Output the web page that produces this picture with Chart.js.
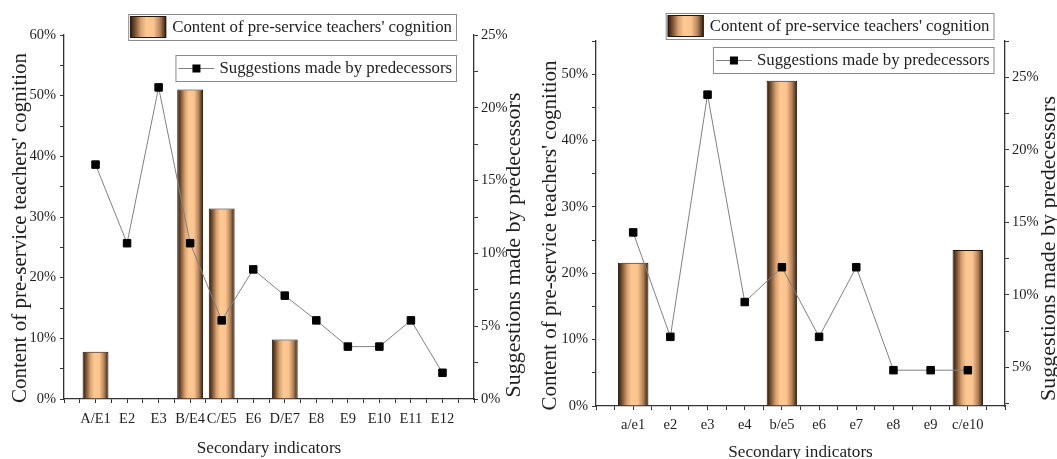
<!DOCTYPE html>
<html>
<head>
<meta charset="utf-8">
<script src="https://cdn.jsdelivr.net/npm/chart.js@4.4.1/dist/chart.umd.min.js"></script>
<style>
  html, body { margin: 0; padding: 0; background: #fff; }
  #pagina { position: relative; width: 1057px; height: 459px; overflow: hidden; background: #fff; }
  .painel { position: absolute; top: 0; height: 459px; }
  #painelEsq { left: 0; width: 530px; }
  #painelDir { left: 530px; width: 527px; }
</style>
</head>
<body>
<div id="pagina">
  <div class="painel" id="painelEsq"><canvas id="graficoEsq"></canvas></div>
  <div class="painel" id="painelDir"><canvas id="graficoDir"></canvas></div>
</div>
<script>
// 🔹 Dados (valores em %)
const categoriasEsq = ['A/E1', 'E2', 'E3', 'B/E4', 'C/E5', 'E6', 'D/E7', 'E8', 'E9', 'E10', 'E11', 'E12'];
const cognicaoEsq = [7.8, null, null, 51.0, 31.4, null, 9.8, null, null, null, null, null];
const sugestoesEsq = [16.1, 10.7, 21.4, 10.7, 5.4, 8.9, 7.1, 5.4, 3.6, 3.6, 5.4, 1.8];

const categoriasDir = ['a/e1', 'e2', 'e3', 'e4', 'b/e5', 'e6', 'e7', 'e8', 'e9', 'c/e10'];
const cognicaoDir = [21.6, null, null, null, 49.0, null, null, null, null, 23.5];
const sugestoesDir = [14.3, 7.1, 23.8, 9.5, 11.9, 7.1, 11.9, 4.8, 4.8, 4.8];

// 🔹 Marcas com rótulo de cada eixo
const ticksCognicaoEsq = [0, 10, 20, 30, 40, 50, 60];
const ticksSugestoesEsq = [0, 5, 10, 15, 20, 25];
const ticksCognicaoDir = [0, 10, 20, 30, 40, 50];
const ticksSugestoesDir = [5, 10, 15, 20, 25];

// 🔹 Textos
const legendaBarras = "Content of pre-service teachers' cognition";
const legendaLinha = 'Suggestions made by predecessors';
const tituloX = 'Secondary indicators';

const fonte = '"Liberation Serif", "Times New Roman", serif';
const corTexto = '#1e1e1e';
const corEixo = '#333';
const larguraBarra = 0.82; // fração do espaço de uma categoria

Chart.defaults.font.family = fonte;
Chart.defaults.color = corTexto;

// marcas de meio em meio passo (principais + secundárias)
function marcas(min, max, passo) {
  const lista = [];
  for (let v = Math.ceil(min / passo - 1e-9) * passo; v <= max + 1e-9; v += passo) {
    lista.push({ value: Math.round(v * 1000) / 1000 });
  }
  return lista;
}

// 🔹 Gradiente "cilíndrico" das barras (estilo Origin)
function criarGradiente(c, x0, x1) {
  const g = c.createLinearGradient(x0, 0, x1, 0);
  g.addColorStop(0, '#2a1a0d');
  g.addColorStop(0.12, '#6e4a2c');
  g.addColorStop(0.3, '#d9a270');
  g.addColorStop(0.45, '#fdc893');
  g.addColorStop(0.65, '#fbc48e');
  g.addColorStop(0.83, '#b5835a');
  g.addColorStop(1, '#2a1a0d');
  return g;
}

function gradienteBarra(contexto) {
  const chart = contexto.chart;
  const escalaX = chart.scales.x;
  if (!escalaX || !contexto.raw || contexto.raw.y == null) return '#fcc590';
  const centro = escalaX.getPixelForValue(contexto.raw.x);
  const meia = (escalaX.getPixelForValue(1) - escalaX.getPixelForValue(0)) * larguraBarra / 2;
  // antes do layout as escalas ainda não têm tamanho
  if (!Number.isFinite(centro) || !Number.isFinite(meia) || meia <= 0) return '#fcc590';
  return criarGradiente(chart.ctx, centro - meia, centro + meia);
}

function textoVertical(c, texto, x, y, tamanho) {
  c.save();
  c.translate(x, y);
  c.rotate(-Math.PI / 2);
  c.font = `${tamanho}px ${fonte}`;
  c.textAlign = 'center';
  c.textBaseline = 'middle';
  c.fillText(texto, 0, 0);
  c.restore();
}

// 🔹 Plugin: títulos dos eixos e as duas caixas de legenda
const pluginMoldura = {
  id: 'moldura',
  afterDraw(chart, args, op) {
    const c = chart.ctx;
    const area = chart.chartArea;
    const meioY = (area.top + area.bottom) / 2;
    c.save();
    c.fillStyle = corTexto;

    c.font = `${op.fonteX}px ${fonte}`;
    c.textAlign = 'center';
    c.textBaseline = 'middle';
    c.fillText(tituloX, (area.left + area.right) / 2, area.bottom + op.distX);

    textoVertical(c, legendaBarras, op.xTituloEsq, meioY + op.desvioEsq, op.fonteY);
    textoVertical(c, legendaLinha, area.right + op.distDir, meioY + op.desvioDir, op.fonteY2);

    // legendas
    c.font = `${op.fonteLegenda}px ${fonte}`;
    c.textAlign = 'left';
    const caixas = [
      { texto: legendaBarras, topo: op.topoLegenda1, tipo: 'barra' },
      { texto: legendaLinha, topo: op.topoLegenda2, tipo: 'linha' }
    ];
    caixas.forEach(cx => {
      const larg = c.measureText(cx.texto).width + 48;
      const x = op.direitaLegenda - larg;
      const alt = op.alturaLegenda;
      c.fillStyle = '#fff';
      c.fillRect(x, cx.topo, larg, alt);
      c.strokeStyle = '#8a8a8a';
      c.lineWidth = 1;
      c.strokeRect(x + 0.5, cx.topo + 0.5, larg, alt);
      const meio = cx.topo + alt / 2 + 0.5;
      if (cx.tipo === 'barra') {
        c.fillStyle = criarGradiente(c, x + 2, x + 38);
        c.fillRect(x + 2, cx.topo + 2, 36, alt - 4);
        c.strokeStyle = '#24170c';
        c.strokeRect(x + 2.5, cx.topo + 2.5, 35, alt - 5);
      } else {
        c.strokeStyle = '#808080';
        c.beginPath();
        c.moveTo(x + 3, meio);
        c.lineTo(x + 39, meio);
        c.stroke();
        c.fillStyle = '#000';
        c.fillRect(x + 17, meio - 4, 8, 8);
      }
      c.fillStyle = corTexto;
      c.fillText(cx.texto, x + 44, meio + 0.5);
    });
    c.restore();
  }
};

// 🔹 Montar um dos dois gráficos
function montarGrafico(canvasId, cfg) {
  const ctx = document.getElementById(canvasId).getContext('2d');
  const n = cfg.categorias.length;
  const grade = { display: true, offset: false, drawOnChartArea: false, drawTicks: true, tickLength: 4, tickColor: corEixo, tickWidth: 1 };
  const borda = { display: true, color: corEixo, width: 1.3 };
  const fonteTicks = { family: fonte, size: 14.5 };

  return new Chart(ctx, {
    data: {
      datasets: [
        {
          type: 'line',
          label: legendaLinha,
          yAxisID: 'y1',
          order: 0,
          data: cfg.sugestoes.map((v, i) => ({ x: i + 1, y: v })),
          borderColor: '#808080',
          borderWidth: 1,
          pointStyle: 'rect',
          pointRadius: 5.3,
          pointBackgroundColor: '#000',
          pointBorderColor: '#000',
          pointBorderWidth: 1,
          tension: 0
        },
        {
          type: 'bar',
          label: legendaBarras,
          yAxisID: 'y',
          order: 1,
          data: cfg.cognicao.map((v, i) => ({ x: i + 1, y: v })),
          backgroundColor: gradienteBarra,
          borderColor: '#24170c',
          borderWidth: 1,
          borderSkipped: 'start',
          // o Chart.js mede o espaço pela menor distância entre marcas (meio passo)
          barPercentage: larguraBarra * 2,
          categoryPercentage: 1
        }
      ]
    },
    options: {
      responsive: true,
      maintainAspectRatio: false,
      animation: false,
      events: [],
      layout: { autoPadding: false, padding: { top: cfg.topo, left: 0, right: 0, bottom: 0 } },
      plugins: {
        legend: { display: false },
        tooltip: { enabled: false },
        moldura: cfg.moldura
      },
      scales: {
        x: {
          type: 'linear',
          offset: false,
          min: 0,
          max: n + 1,
          afterBuildTicks: s => { s.ticks = marcas(0, n + 1, 0.5); },
          afterFit: s => {
            s.height = cfg.alturaX;
            s.paddingLeft = 0;
            s.paddingRight = 0;
          },
          grid: grade,
          border: borda,
          ticks: {
            autoSkip: false,
            maxRotation: 0,
            padding: cfg.padX,
            font: fonteTicks,
            color: corTexto,
            callback: v => (Number.isInteger(v) && v >= 1 && v <= n) ? cfg.categorias[v - 1] : ''
          }
        },
        y: {
          type: 'linear',
          position: 'left',
          min: cfg.faixaY[0],
          max: cfg.faixaY[1],
          afterBuildTicks: s => { s.ticks = marcas(cfg.faixaY[0], cfg.faixaY[1], 5); },
          afterFit: s => { s.width = cfg.larguraY; },
          grid: grade,
          border: borda,
          ticks: {
            autoSkip: false,
            padding: 4,
            font: fonteTicks,
            color: corTexto,
            callback: v => cfg.ticksY.includes(v) ? v + '%' : ''
          }
        },
        y1: {
          type: 'linear',
          position: 'right',
          min: cfg.faixaY1[0],
          max: cfg.faixaY1[1],
          afterBuildTicks: s => { s.ticks = marcas(cfg.faixaY1[0], cfg.faixaY1[1], 2.5); },
          afterFit: s => { s.width = cfg.larguraY1; },
          grid: grade,
          border: borda,
          ticks: {
            autoSkip: false,
            padding: 3,
            font: fonteTicks,
            color: corTexto,
            callback: v => cfg.ticksY1.includes(v) ? v + '%' : ''
          }
        }
      }
    },
    plugins: [pluginMoldura]
  });
}

montarGrafico('graficoEsq', {
  categorias: categoriasEsq,
  cognicao: cognicaoEsq,
  sugestoes: sugestoesEsq,
  ticksY: ticksCognicaoEsq,
  ticksY1: ticksSugestoesEsq,
  faixaY: [0, 60],
  faixaY1: [0, 25],
  topo: 35,
  alturaX: 60,
  larguraY: 64,
  larguraY1: 56,
  padX: 7,
  moldura: {
    fonteX: 17.2, distX: 49,
    fonteY: 21, fonteY2: 22, xTituloEsq: 20, desvioEsq: 11, distDir: 40, desvioDir: 28,
    fonteLegenda: 16.8, direitaLegenda: 456, alturaLegenda: 26, topoLegenda1: 14, topoLegenda2: 55
  }
});

montarGrafico('graficoDir', {
  categorias: categoriasDir,
  cognicao: cognicaoDir,
  sugestoes: sugestoesDir,
  ticksY: ticksCognicaoDir,
  ticksY1: ticksSugestoesDir,
  faixaY: [0, 55],
  faixaY1: [2.33, 27.5],
  topo: 41,
  alturaX: 53,
  larguraY: 66,
  larguraY1: 52,
  padX: 6,
  moldura: {
    fonteX: 17.2, distX: 46.5,
    fonteY: 21, fonteY2: 22, xTituloEsq: 20, desvioEsq: 12, distDir: 44, desvioDir: 25,
    fonteLegenda: 16.8, direitaLegenda: 463.5, alturaLegenda: 26, topoLegenda1: 13, topoLegenda2: 47
  }
});
</script>
</body>
</html>
